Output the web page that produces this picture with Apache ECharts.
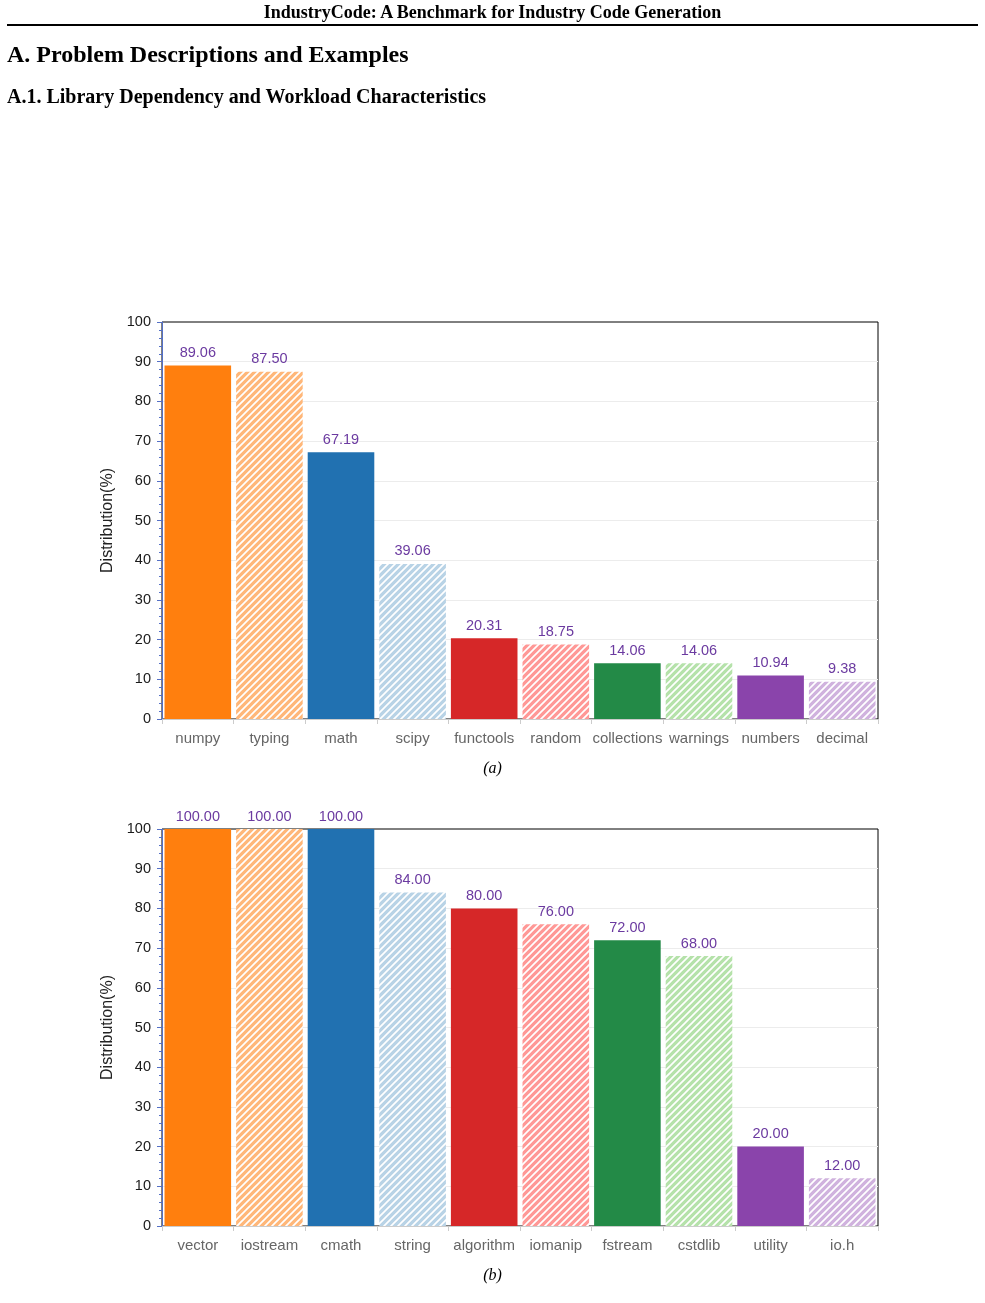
<!DOCTYPE html>
<html>
<head>
<meta charset="utf-8">
<script src="https://cdn.jsdelivr.net/npm/echarts@6/dist/echarts.min.js"></script>
<style>
  html, body { margin: 0; padding: 0; background: #fff; width: 985px; height: 1303px; overflow: hidden; }
  .hdr { position: absolute; left: 0; width: 985px; text-align: center; top: 2px; font: bold 18px "Liberation Serif", serif; color: #000; }
  .rule { position: absolute; left: 7px; width: 971px; top: 24px; height: 2px; background: #000; }
  .h1 { position: absolute; left: 7px; top: 41px; font: bold 24px "Liberation Serif", serif; color: #000; }
  .h2 { position: absolute; left: 7px; top: 85px; font: bold 20px "Liberation Serif", serif; color: #000; }
  .cap { position: absolute; left: 0; width: 985px; text-align: center; font: italic 16px "Liberation Serif", serif; color: #000; }
  #chart { position: absolute; left: 0; top: 0; width: 985px; height: 1303px; }
</style>
</head>
<body>
<div id="chart"></div>
<div class="hdr">IndustryCode: A Benchmark for Industry Code Generation</div>
<div class="rule"></div>
<div class="h1">A. Problem Descriptions and Examples</div>
<div class="h2">A.1. Library Dependency and Workload Characteristics</div>
<div class="cap" style="top:759px">(a)</div>
<div class="cap" style="top:1266px">(b)</div>
<script>
// ---- data ----
const categoriesA = ['numpy', 'typing', 'math', 'scipy', 'functools', 'random', 'collections', 'warnings', 'numbers', 'decimal'];
const valuesA = [89.06, 87.50, 67.19, 39.06, 20.31, 18.75, 14.06, 14.06, 10.94, 9.38];
const categoriesB = ['vector', 'iostream', 'cmath', 'string', 'algorithm', 'iomanip', 'fstream', 'cstdlib', 'utility', 'io.h'];
const valuesB = [100.00, 100.00, 100.00, 84.00, 80.00, 76.00, 72.00, 68.00, 20.00, 12.00];
const yTicks = [0, 10, 20, 30, 40, 50, 60, 70, 80, 90, 100];

// ---- styles ----
const palette = [
  { c: '#ff7f0e', hatch: false },
  { c: '#ffb779', hatch: true },
  { c: '#2171b1', hatch: false },
  { c: '#b8d3e6', hatch: true },
  { c: '#d62728', hatch: false },
  { c: '#ff9896', hatch: true },
  { c: '#238a47', hatch: false },
  { c: '#b5e2aa', hatch: true },
  { c: '#8a44ab', hatch: false },
  { c: '#d0b2de', hatch: true }
];

function hatchPattern(color) {
  const s = 7;
  const cv = document.createElement('canvas');
  cv.width = s; cv.height = s;
  const ctx = cv.getContext('2d');
  ctx.fillStyle = color;
  ctx.fillRect(0, 0, s, s);
  ctx.strokeStyle = '#ffffff';
  ctx.lineWidth = 1.7;
  ctx.beginPath();
  ctx.moveTo(-1, s + 1); ctx.lineTo(s + 1, -1);
  ctx.moveTo(-1, 1); ctx.lineTo(1, -1);
  ctx.moveTo(s - 1, s + 1); ctx.lineTo(s + 1, s - 1);
  ctx.stroke();
  return { image: cv, repeat: 'repeat' };
}

function buildData(vals) {
  return vals.map((v, i) => {
    const p = palette[i % palette.length];
    return { value: v, itemStyle: { color: p.hatch ? hatchPattern(p.c) : p.c } };
  });
}

const chart = echarts.init(document.getElementById('chart'), null, { renderer: 'canvas' });

const FONT = 'Arial, "Liberation Sans", sans-serif';

const grids = [
  { left: 162, top: 322, width: 716, height: 397, show: true, borderColor: '#000', borderWidth: 1, backgroundColor: 'transparent' },
  { left: 162, top: 829, width: 716, height: 397, show: true, borderColor: '#000', borderWidth: 1, backgroundColor: 'transparent' }
];

function xAxisFor(cats, gi) {
  return {
    type: 'category', gridIndex: gi, data: cats,
    axisLine: { show: true, lineStyle: { color: '#ccc', width: 1 } },
    axisTick: { show: true, alignWithLabel: false, length: 5, lineStyle: { color: '#ccc' } },
    axisLabel: { color: '#666', fontSize: 15, margin: 12, fontFamily: FONT, interval: 0 },
    splitLine: { show: false }
  };
}

function yAxisFor(gi) {
  return {
    type: 'value', gridIndex: gi, min: yTicks[0], max: yTicks[yTicks.length - 1], interval: yTicks[1] - yTicks[0],
    name: 'Distribution(%)', nameLocation: 'middle', nameGap: 33,
    nameTextStyle: { color: '#222', fontSize: 16, fontFamily: FONT },
    axisLine: { show: true, lineStyle: { color: '#5470c6', width: 1 } },
    axisTick: { show: true, length: 5, lineStyle: { color: '#5470c6' } },
    minorTick: { show: true, splitNumber: 5, length: 3, lineStyle: { color: '#5470c6' } },
    axisLabel: { color: '#1a1a1a', fontSize: 14.5, margin: 11, fontFamily: FONT },
    splitLine: { show: true, showMaxLine: false, showMinLine: false, lineStyle: { color: '#ececec', width: 1 } }
  };
}

function seriesFor(vals, gi) {
  return {
    type: 'bar', xAxisIndex: gi, yAxisIndex: gi,
    data: buildData(vals),
    barCategoryGap: '7%',
    label: {
      show: true, position: 'top', distance: 5,
      formatter: (p) => p.value.toFixed(2),
      color: '#6b3aa0', fontSize: 14.5, fontFamily: FONT
    },
    emphasis: { disabled: true },
    animation: false
  };
}

chart.setOption({
  animation: false,
  grid: grids,
  xAxis: [xAxisFor(categoriesA, 0), xAxisFor(categoriesB, 1)],
  yAxis: [yAxisFor(0), yAxisFor(1)],
  series: [seriesFor(valuesA, 0), seriesFor(valuesB, 1)]
});
</script>
</body>
</html>
